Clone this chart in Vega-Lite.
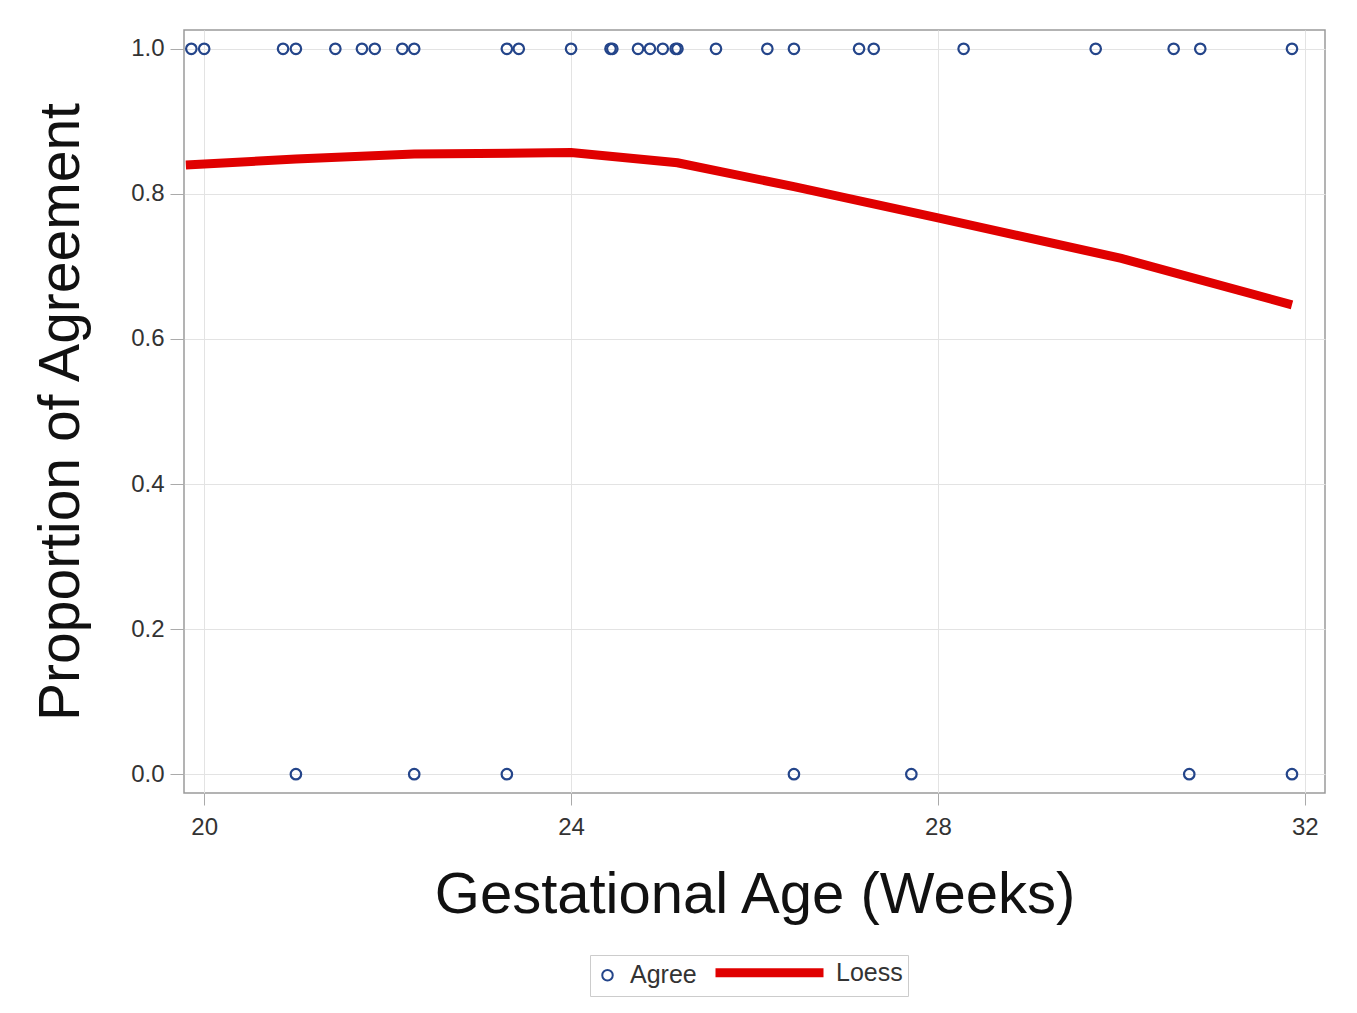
{
  "$schema": "https://vega.github.io/schema/vega-lite/v6.json",
  "width": 1141,
  "height": 763,
  "autosize": {"type": "none"},
  "padding": {"left": 184, "top": 30, "right": 32, "bottom": 220},
  "background": "white",
  "config": {
    "view": {"stroke": "#9a9a9a", "strokeWidth": 1.5},
    "font": "Liberation Sans"
  },
  "datasets": {
    "pts": [
      {"age": 19.86, "agree": 1, "series": "Agree"},
      {"age": 20.0, "agree": 1, "series": "Agree"},
      {"age": 20.86, "agree": 1, "series": "Agree"},
      {"age": 21.0, "agree": 1, "series": "Agree"},
      {"age": 21.43, "agree": 1, "series": "Agree"},
      {"age": 21.72, "agree": 1, "series": "Agree"},
      {"age": 21.86, "agree": 1, "series": "Agree"},
      {"age": 22.16, "agree": 1, "series": "Agree"},
      {"age": 22.29, "agree": 1, "series": "Agree"},
      {"age": 23.3, "agree": 1, "series": "Agree"},
      {"age": 23.43, "agree": 1, "series": "Agree"},
      {"age": 24.0, "agree": 1, "series": "Agree"},
      {"age": 24.43, "agree": 1, "series": "Agree"},
      {"age": 24.45, "agree": 1, "series": "Agree"},
      {"age": 24.73, "agree": 1, "series": "Agree"},
      {"age": 24.86, "agree": 1, "series": "Agree"},
      {"age": 25.0, "agree": 1, "series": "Agree"},
      {"age": 25.14, "agree": 1, "series": "Agree"},
      {"age": 25.16, "agree": 1, "series": "Agree"},
      {"age": 25.58, "agree": 1, "series": "Agree"},
      {"age": 26.14, "agree": 1, "series": "Agree"},
      {"age": 26.43, "agree": 1, "series": "Agree"},
      {"age": 27.14, "agree": 1, "series": "Agree"},
      {"age": 27.3, "agree": 1, "series": "Agree"},
      {"age": 28.28, "agree": 1, "series": "Agree"},
      {"age": 29.72, "agree": 1, "series": "Agree"},
      {"age": 30.57, "agree": 1, "series": "Agree"},
      {"age": 30.86, "agree": 1, "series": "Agree"},
      {"age": 31.86, "agree": 1, "series": "Agree"},
      {"age": 21.0, "agree": 0, "series": "Agree"},
      {"age": 22.29, "agree": 0, "series": "Agree"},
      {"age": 23.3, "agree": 0, "series": "Agree"},
      {"age": 26.43, "agree": 0, "series": "Agree"},
      {"age": 27.71, "agree": 0, "series": "Agree"},
      {"age": 30.74, "agree": 0, "series": "Agree"},
      {"age": 31.86, "agree": 0, "series": "Agree"}
    ],
    "loess": [
      {"age": 19.8, "p": 0.840, "series": "Loess"},
      {"age": 21.0, "p": 0.848, "series": "Loess"},
      {"age": 22.29, "p": 0.855, "series": "Loess"},
      {"age": 24.0, "p": 0.857, "series": "Loess"},
      {"age": 25.16, "p": 0.843, "series": "Loess"},
      {"age": 26.43, "p": 0.810, "series": "Loess"},
      {"age": 28.0, "p": 0.767, "series": "Loess"},
      {"age": 30.0, "p": 0.711, "series": "Loess"},
      {"age": 31.86, "p": 0.647, "series": "Loess"}
    ]
  },
  "encoding": {
    "x": {
      "type": "quantitative",
      "scale": {"domain": [19.78, 32.22], "nice": false, "zero": false},
      "axis": {
        "values": [20, 24, 28, 32],
        "title": "Gestational Age (Weeks)",
        "titleFontSize": 58,
        "titleFontWeight": "normal",
        "titleColor": "#111",
        "titlePadding": 27,
        "labelFontSize": 24,
        "labelColor": "#333",
        "labelPadding": 10,
        "tickSize": 12,
        "tickColor": "#aaa",
        "domain": false,
        "gridColor": "#e3e3e3"
      }
    },
    "y": {
      "type": "quantitative",
      "scale": {"domain": [-0.026, 1.026], "nice": false, "zero": false},
      "axis": {
        "values": [0, 0.2, 0.4, 0.6, 0.8, 1.0],
        "format": ".1f",
        "title": "Proportion of Agreement",
        "titleFontSize": 57,
        "titleFontWeight": "normal",
        "titleColor": "#111",
        "titlePadding": 40,
        "labelFontSize": 24,
        "labelColor": "#333",
        "labelPadding": 6,
        "tickSize": 14,
        "tickColor": "#aaa",
        "domain": false,
        "gridColor": "#e3e3e3"
      }
    },
    "color": {
      "field": "series",
      "type": "nominal",
      "scale": {"domain": ["Agree", "Loess"], "range": ["#24458a", "#e00000"]},
      "legend": {
        "title": null,
        "orient": "none",
        "legendX": 406,
        "legendY": 925,
        "direction": "horizontal",
        "strokeColor": "#cccccc",
        "padding": 5,
        "labelFontSize": 25,
        "labelColor": "#333",
        "columnPadding": 0,
        "labelOffset": 10,
        "encode": {
          "legend": {"update": {"width": {"value": 320}}},
          "symbols": {
            "update": {
              "shape": {"signal": "datum.value === 'Loess' ? 'M-9.8,0H1' : 'circle'"},
              "size": {"signal": "datum.value === 'Loess' ? 400 : 110"},
              "strokeWidth": {"signal": "datum.value === 'Loess' ? 9 : 2"},
              "fill": {"value": "transparent"}
            }
          }
        }
      }
    }
  },
  "layer": [
    {
      "data": {"name": "loess"},
      "mark": {"type": "line", "strokeWidth": 9, "strokeCap": "butt"},
      "encoding": {
        "x": {"field": "age"},
        "y": {"field": "p"}
      }
    },
    {
      "data": {"name": "pts"},
      "mark": {"type": "point", "filled": false, "size": 110, "strokeWidth": 2.2, "opacity": 1},
      "encoding": {
        "x": {"field": "age"},
        "y": {"field": "agree"}
      }
    }
  ]
}
